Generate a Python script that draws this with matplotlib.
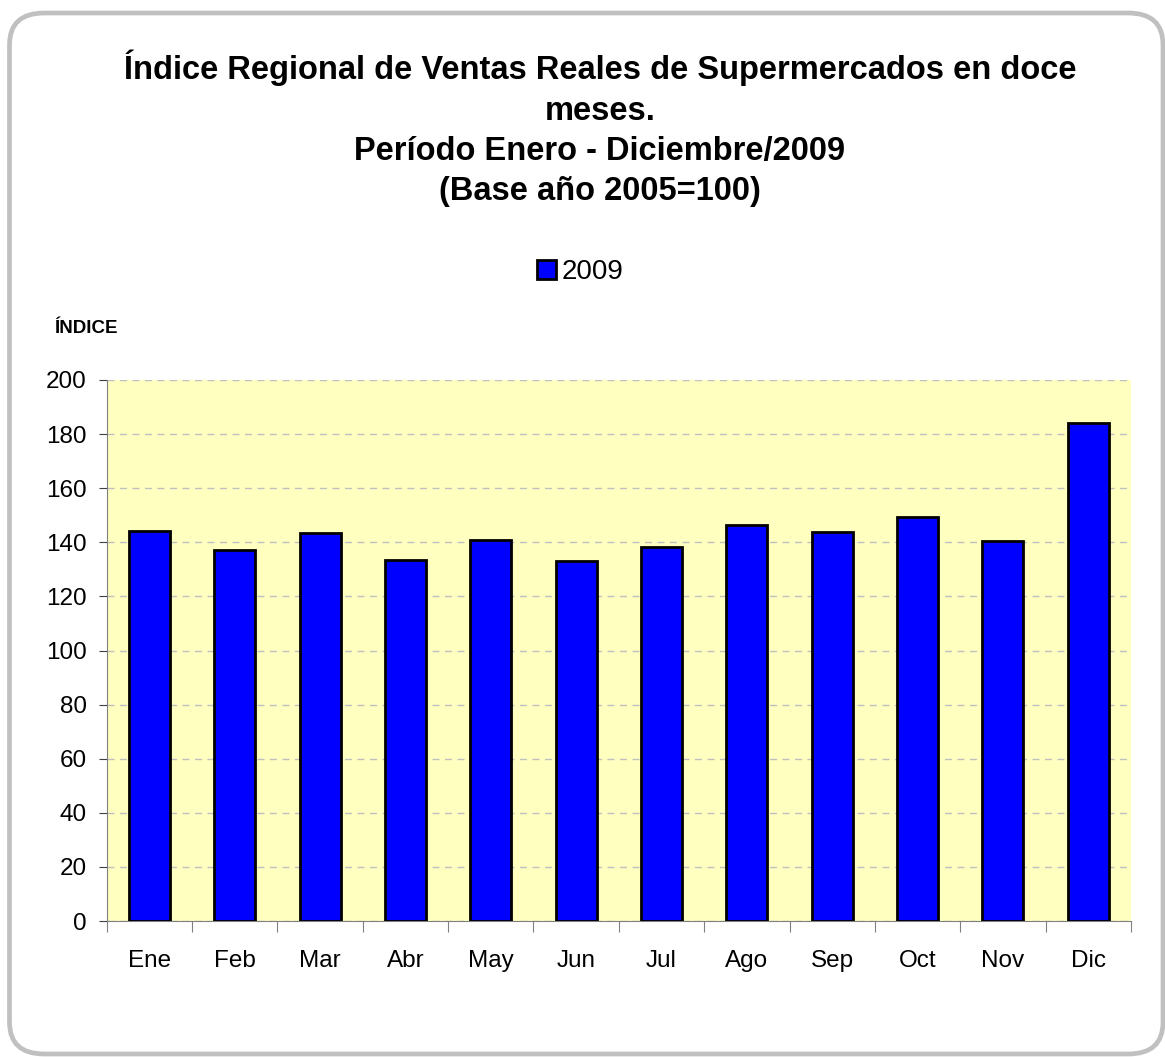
import numpy as np
import matplotlib.pyplot as plt
from matplotlib.patches import FancyBboxPatch

months = ["Ene", "Feb", "Mar", "Abr", "May", "Jun", "Jul", "Ago", "Sep", "Oct", "Nov", "Dic"]
indice_2009 = [144.2, 137.0, 143.6, 133.4, 140.9, 133.2, 138.1, 146.3, 143.8, 149.5, 140.6, 184.2]
series_label = "2009"
title = ("Índice Regional de Ventas Reales de Supermercados en doce\nmeses.\n"
         "Período Enero - Diciembre/2009\n(Base año 2005=100)")

plt.rcParams['font.family'] = ['Liberation Sans', 'DejaVu Sans']

W, H = 1165, 1057
fig = plt.figure(figsize=(W / 100, H / 100), dpi=100)

# rounded outer frame
frame = FancyBboxPatch((9.5 / W, 3 / H), 1153.5 / W, 1041 / H,
                       boxstyle="round,pad=0,rounding_size=0.03",
                       transform=fig.transFigure, facecolor="none",
                       edgecolor="#c0c0c0", linewidth=3.4, zorder=-5)
fig.patches.append(frame)

ax = fig.add_axes([106.7 / W, (H - 921) / H, (1131 - 106.7) / W, (921 - 380) / H])
ax.set_facecolor("#ffffc0")

x = np.arange(len(months))
ax.bar(x, indice_2009, width=0.48, color="#0000ff", edgecolor="black",
       linewidth=2, label=series_label, zorder=3)

ax.set_xlim(-0.5, len(months) - 0.5)
ax.set_ylim(0, 200)
ax.set_yticks(np.arange(0, 201, 20))
ax.yaxis.grid(True, linestyle=(0, (5, 4)), color="#c0c0c0", linewidth=1, zorder=1)

# category boundaries as major ticks, labels in the middle
ax.set_xticks(np.arange(-0.5, len(months), 1))
ax.set_xticklabels([])
ax.set_xticks(x, minor=True)
ax.set_xticklabels(months, minor=True)
ax.tick_params(axis="x", which="minor", length=0, pad=21, labelsize=17.5)
ax.tick_params(axis="x", which="major", length=8, color="#808080")
ax.tick_params(axis="y", length=5.5, color="#404040", labelsize=17.5, pad=9)

for s in ["top", "right"]:
    ax.spines[s].set_visible(False)
ax.spines["left"].set_color("#808080")
ax.spines["bottom"].set_color("#808080")

fig.text(600 / W, 1 - 50 / H, title, ha="center", va="top", fontsize=23.5,
         fontweight="bold", linespacing=1.38)
fig.text(54 / W, 1 - 328 / H, "ÍNDICE", ha="left", va="center", fontsize=13.5,
         fontweight="bold")

fig.legend(loc="center", bbox_to_anchor=(580 / W, 1 - 272 / H), frameon=False,
           fontsize=20, handlelength=0.7, handleheight=0.7, handletextpad=0.2)

fig.savefig("out.png", dpi=100)
